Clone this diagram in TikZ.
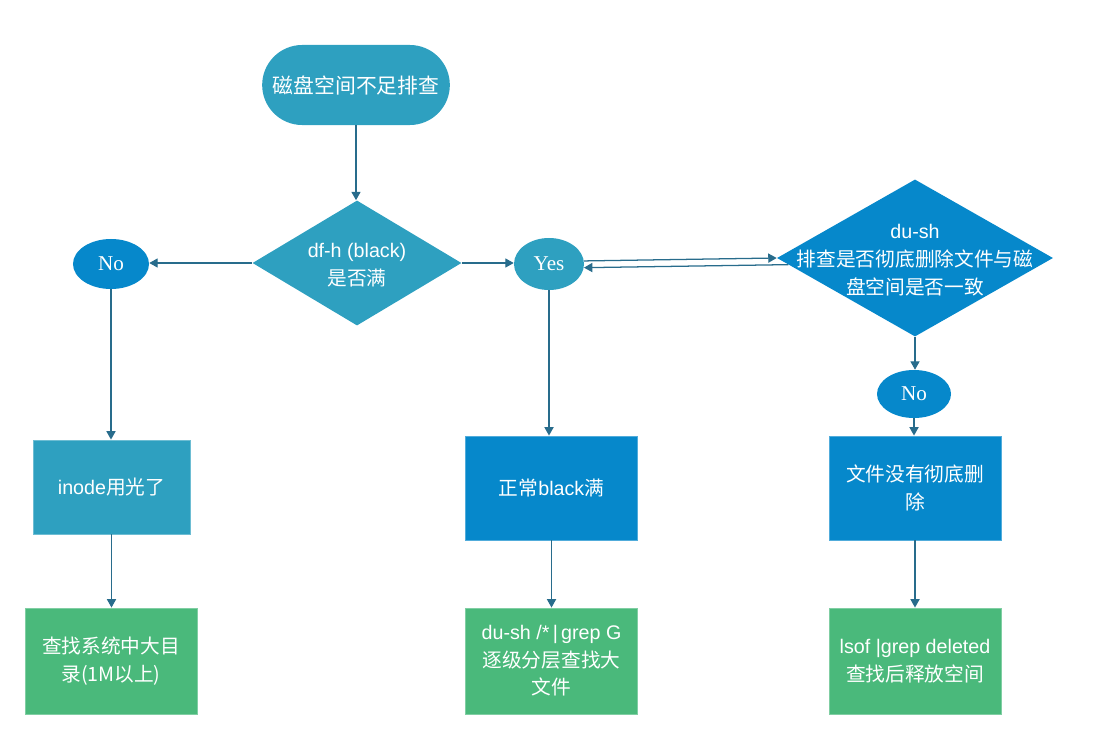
\documentclass[tikz,border=0pt]{standalone}
\usepackage{fontspec}
\setmainfont{Liberation Sans}
\newfontfamily\cjk{Noto Sans CJK SC}
\newfontfamily\yesno{Liberation Serif}
\usetikzlibrary{shapes.geometric,shapes.misc,arrows.meta}
\definecolor{flowteal}{RGB}{46,160,192}
\definecolor{flowblue}{RGB}{6,136,203}
\definecolor{flowgreen}{RGB}{74,185,123}
\definecolor{flowline}{RGB}{40,108,140}
\tikzset{
	txt/.style={text=white, align=center, font=\fontsize{14}{19.5}\selectfont},
	start/.style={rounded rectangle, fill=flowteal, txt, minimum width=4.925cm, minimum height=2cm},
	decide/.style={diamond, txt, inner sep=0pt},
	answer/.style={ellipse, txt, inner sep=0pt, font=\yesno\fontsize{15}{18}\selectfont},
	stepbox/.style={rectangle, txt, draw=#1!70!white, fill=#1, line width=0.6pt, minimum width=4.3cm, minimum height=2.6cm},
	arr/.style={draw=flowline, line width=0.9pt, -{Triangle[length=6pt,width=6.5pt]}},
}
\begin{document}
\begin{tikzpicture}[x=0.025cm,y=-0.025cm]
	\useasboundingbox (0,0) rectangle (1109,755);

	\node[start, font=\fontsize{14.8}{19.5}\selectfont] (begin) at (356,85) {\cjk 磁盘空间不足排查};

	\node[decide, fill=flowteal, minimum width=5.225cm, minimum height=3.125cm] (dfh) at (357,263) {};
	\node[txt] (dfhtext) at (357,265) {df-h (black)\\{\cjk 是否满}};

	\node[answer, fill=flowblue, minimum width=1.9cm, minimum height=1.25cm] (no1) at (111,264) {No};
	\node[answer, fill=flowteal, minimum width=1.75cm, minimum height=1.3cm] (yes) at (549,264) {Yes};

	\node[decide, fill=flowblue, minimum width=6.9cm, minimum height=3.925cm] (dush) at (915,258) {};
	\node[txt, font=\fontsize{14}{20}\selectfont] (dushtext) at (915,260) {du-sh\\{\cjk 排查是否彻底删除文件与磁}\\{\cjk 盘空间是否一致}};

	\node[answer, fill=flowblue, minimum width=1.85cm, minimum height=1.2cm] (no2) at (914,394) {No};

	\node[stepbox=flowteal, minimum width=3.925cm, minimum height=2.35cm] (inode) at (111.5,487) {inode{\cjk 用光了}};
	\node[stepbox=flowblue, minimum height=2.6cm] (full) at (551.5,488) {{\cjk 正常}black{\cjk 满}};
	\node[stepbox=flowblue, minimum height=2.6cm] (undel) at (915,488) {\cjk 文件没有彻底删\\\cjk 除};

	\node[stepbox=flowgreen, minimum height=2.65cm] (bigdir) at (111,661) {\cjk 查找系统中大目\\\cjk 录(1M以上)};
	\node[stepbox=flowgreen, minimum height=2.65cm] (bigfile) at (551.5,661) {du-sh /*\,|\,grep G\\{\cjk 逐级分层查找大}\\{\cjk 文件}};
	\node[stepbox=flowgreen, minimum height=2.65cm] (release) at (915,661) {lsof |grep deleted\\{\cjk 查找后释放空间}};

	\draw[arr] (begin.south) -- (begin.south |- dfh.north);
	\draw[arr] (dfh.west) -- (no1.east |- dfh.west);
	\draw[arr] (dfh.east) -- (yes.west |- dfh.east);
	\draw[arr] (yes.5) -- (dush.west);
	\draw[arr] (dush.183) -- (yes.-6);
	\draw[arr] (dush.south) -- (dush.south |- no2.north);
	\draw[arr] (no1.south) -- (no1.south |- inode.north);
	\draw[arr] (yes.south) -- (yes.south |- full.north);
	\draw[arr] (no2.south) -- (no2.south |- undel.north);
	\draw[arr] (inode.south) -- (inode.south |- bigdir.north);
	\draw[arr] (full.south) -- (full.south |- bigfile.north);
	\draw[arr] (undel.south) -- (undel.south |- release.north);

\end{tikzpicture}
\end{document}
